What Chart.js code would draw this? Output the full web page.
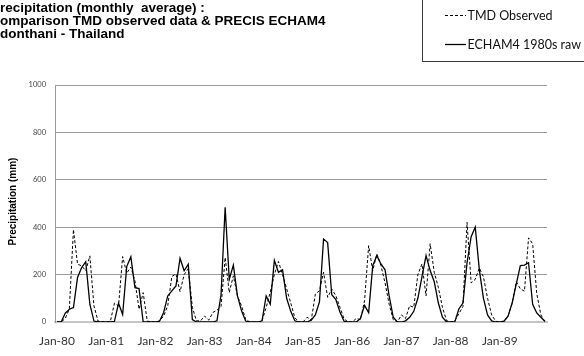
<!DOCTYPE html>
<html>
<head>
<meta charset="utf-8">
<script src="https://cdn.jsdelivr.net/npm/chart.js@4/dist/chart.umd.min.js"></script>
<style>
  html, body { margin: 0; padding: 0; background: #fff; overflow: hidden; }
  #wrap { position: relative; width: 584px; height: 356px; }
</style>
</head>
<body>
<div id="wrap"><canvas id="chart" width="584" height="356"></canvas></div>
<script>
// Monthly precipitation, Udonthani, Jan 1980 - Dec 1989 (mm)
const monthNames = ['Jan','Feb','Mar','Apr','May','Jun','Jul','Aug','Sep','Oct','Nov','Dec'];
const years = ['80','81','82','83','84','85','86','87','88','89'];

const tmdObserved = [
  0, 0, 15, 55, 390, 244, 237, 216, 279, 68, 4, 0,      // 1980
  0, 3, 79, 68, 276, 206, 232, 173, 54, 124, 4, 0,      // 1981
  0, 5, 25, 69, 192, 203, 128, 200, 225, 62, 5, 5,      // 1982
  25, 8, 40, 50, 65, 272, 124, 195, 110, 68, 11, 0,     // 1983
  0, 0, 5, 61, 125, 200, 255, 200, 140, 80, 18, 0,      // 1984
  0, 20, 8, 118, 132, 210, 104, 139, 111, 62, 13, 0,    // 1985
  0, 15, 10, 90, 322, 217, 287, 238, 165, 75, 10, 0,    // 1986
  30, 15, 69, 62, 200, 245, 110, 330, 210, 146, 62, 6,  // 1987
  0, 5, 35, 65, 420, 165, 180, 228, 190, 100, 30, 3,    // 1988
  0, 5, 25, 80, 170, 140, 130, 355, 330, 120, 30, 0     // 1989
];

const echam4Raw = [
  0, 0, 37, 54, 61, 188, 230, 254, 75, 4, 0, 0,         // 1980
  0, 0, 3, 79, 32, 234, 275, 145, 141, 2, 0, 0,         // 1981
  0, 3, 40, 110, 131, 152, 269, 216, 244, 10, 0, 0,     // 1982
  0, 0, 0, 5, 115, 484, 180, 240, 110, 47, 4, 0,        // 1983
  0, 0, 5, 110, 75, 260, 210, 220, 100, 45, 5, 0,       // 1984
  0, 0, 8, 30, 85, 350, 335, 115, 95, 42, 3, 0,         // 1985
  0, 0, 15, 70, 40, 238, 280, 245, 220, 110, 20, 0,     // 1986
  0, 5, 20, 45, 100, 190, 280, 217, 170, 80, 20, 0,     // 1987
  0, 0, 55, 80, 250, 360, 400, 220, 100, 30, 5, 0,      // 1988
  0, 3, 25, 80, 160, 238, 240, 250, 75, 38, 20, 3       // 1989
];

const yTickValues = [0, 200, 400, 600, 800, 1000];
const titleLines = [
  'Precipitation (monthly  average) :',
  'Comparison TMD observed data & PRECIS ECHAM4',
  'Udonthani - Thailand'
];
const yAxisTitle = 'Precipitation (mm)';
const seriesNames = ['TMD Observed', 'ECHAM4 1980s raw'];

// one category per month, e.g. "Jan-80"
const monthLabels = [];
years.forEach(y => monthNames.forEach(m => monthLabels.push(m + '-' + y)));

const TICK_FONT = 'Lato, "Liberation Sans", sans-serif';

// title block, rotated axis title and framed legend
const decorations = {
  id: 'decorations',
  afterDraw(chart) {
    const ctx = chart.ctx;
    const area = chart.chartArea;
    ctx.save();

    // title, starting slightly left of the canvas edge
    ctx.fillStyle = '#000';
    ctx.font = 'bold 13.5px "Liberation Sans", Arial, sans-serif';
    ctx.textBaseline = 'alphabetic';
    ctx.textAlign = 'left';
    const baselines = [12, 25, 38];
    titleLines.forEach((line, i) => {
      const lead = ctx.measureText(line[0]).width;
      ctx.fillText(line, -lead, baselines[i]);
    });

    // y axis title
    ctx.save();
    ctx.translate(13, (area.top + area.bottom) / 2 - 2);
    ctx.rotate(-Math.PI / 2);
    ctx.font = 'bold 10px "Liberation Sans", Arial, sans-serif';
    ctx.textAlign = 'center';
    ctx.textBaseline = 'middle';
    ctx.fillText(yAxisTitle, 0, 0);
    ctx.restore();

    // legend frame
    ctx.strokeStyle = '#3a3a3a';
    ctx.lineWidth = 1;
    ctx.strokeRect(422.5, -1.5, 170, 63);

    const rows = [15.5, 44.5];
    chart.data.datasets.forEach((ds, i) => {
      const y = rows[i];
      ctx.beginPath();
      ctx.setLineDash(ds.borderDash || []);
      ctx.lineWidth = ds.borderWidth;
      ctx.strokeStyle = ds.borderColor;
      ctx.moveTo(445, y);
      ctx.lineTo(466, y);
      ctx.stroke();
      ctx.setLineDash([]);
      ctx.fillStyle = '#111';
      ctx.font = '12.5px ' + TICK_FONT;
      ctx.textAlign = 'left';
      ctx.textBaseline = 'middle';
      ctx.fillText(ds.label, 467.5, y);
    });

    ctx.restore();
  }
};

new Chart(document.getElementById('chart'), {
  type: 'line',
  data: {
    labels: monthLabels,
    datasets: [
      {
        label: seriesNames[0],
        data: tmdObserved,
        borderColor: '#000',
        borderWidth: 1,
        borderDash: [3, 2],
        pointRadius: 0,
        tension: 0,
        fill: false
      },
      {
        label: seriesNames[1],
        data: echam4Raw,
        borderColor: '#000',
        borderWidth: 1.3,
        pointRadius: 0,
        tension: 0,
        fill: false
      }
    ]
  },
  options: {
    responsive: false,
    animation: false,
    devicePixelRatio: 1,
    layout: { padding: { left: 0, right: 37, top: 85, bottom: 0 } },
    plugins: {
      legend: { display: false },
      title: { display: false },
      tooltip: { enabled: false }
    },
    scales: {
      x: {
        type: 'category',
        offset: true,
        grid: { display: false, drawTicks: false },
        border: { display: true, color: '#c4c4c4', width: 2 },
        ticks: {
          autoSkip: false,
          maxRotation: 0,
          minRotation: 0,
          padding: 12,
          color: '#333',
          font: { family: TICK_FONT, size: 12 },
          callback: function (value, index) {
            return index % 12 === 0 ? this.getLabelForValue(value) : null;
          }
        },
        afterFit: s => { s.height = 34; }
      },
      y: {
        min: 0,
        max: 1000,
        afterBuildTicks: s => { s.ticks = yTickValues.map(v => ({ value: v })); },
        grid: {
          drawTicks: false,
          color: c => (c.tick && c.tick.value === 0 ? 'rgba(0,0,0,0)' : '#9a9a9a'),
          lineWidth: 1
        },
        border: { display: true, color: '#9a9a9a', width: 1 },
        ticks: {
          padding: 9,
          color: '#444',
          font: { family: TICK_FONT, size: 7.5 },
          callback: v => String(v)
        },
        afterFit: s => { s.width = 55; }
      }
    }
  },
  plugins: [decorations]
});
</script>
</body>
</html>
